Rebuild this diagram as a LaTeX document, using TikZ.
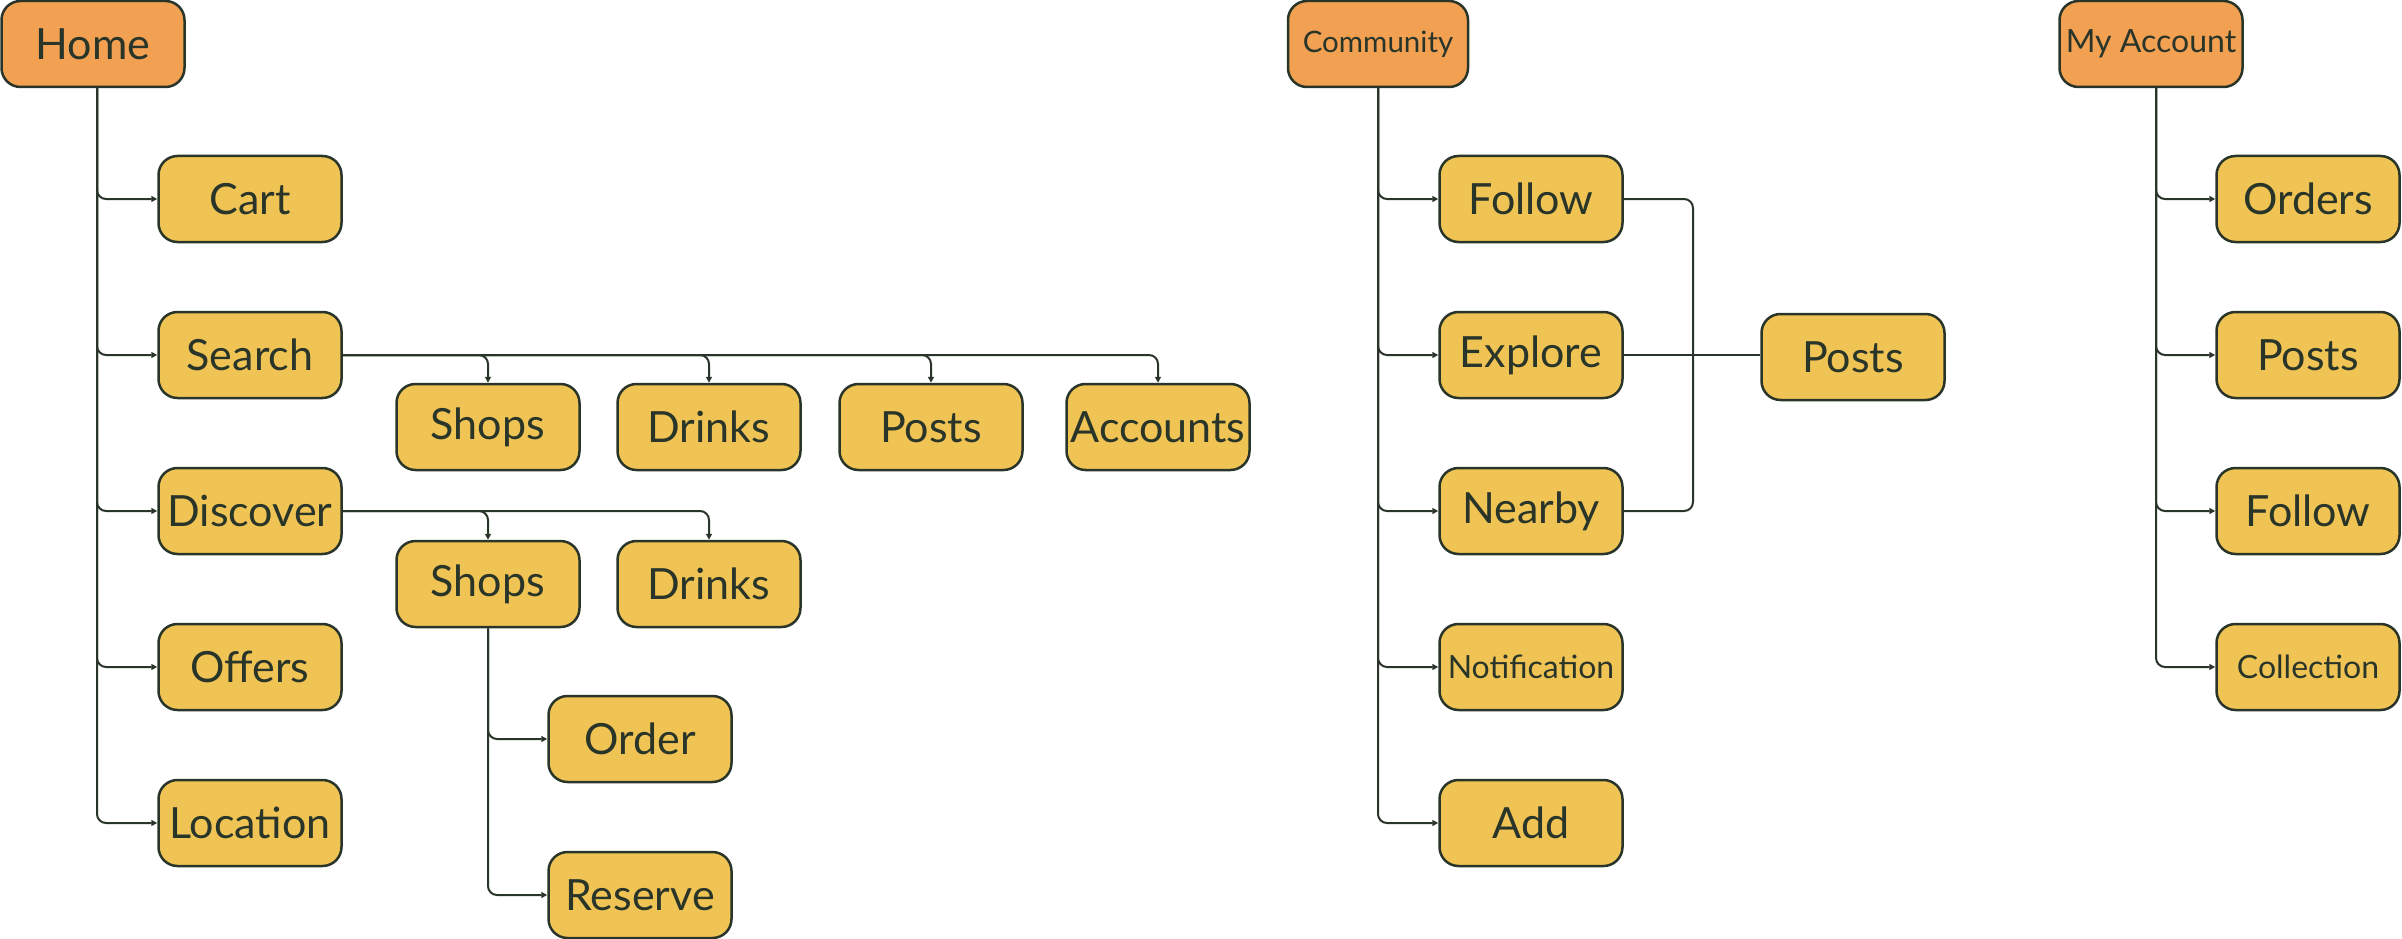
\documentclass[tikz,border=0pt]{standalone}
\usepackage{fontspec}
\setmainfont{Lato}
\usetikzlibrary{arrows.meta,calc}
\definecolor{boxorange}{HTML}{F2A052}
\definecolor{boxyellow}{HTML}{F0C454}
\definecolor{ink}{HTML}{2A3529}
\begin{document}
\begin{tikzpicture}[x=1pt,y=-1pt,
  box/.style={draw=ink,line width=2.5pt,rounded corners=19pt,fill=boxyellow,
    minimum width=183pt,minimum height=86pt,inner sep=0pt,text=ink,
    font=\fontsize{43}{50}\selectfont},
  topbox/.style={box,fill=boxorange},
  small/.style={font=\fontsize{32}{38}\selectfont},
  conn/.style={draw=ink,line width=2pt,rounded corners=9pt},
  arr/.style={conn,-{Triangle[length=6pt,width=6pt]}}
]
\useasboundingbox (0,0) rectangle (2402,939);
% ---------- Home ----------
\node[topbox] (home) at (93,44) {Home};
\node[box] (cart) at (250,199) {Cart};
\node[box] (search) at (250,355) {Search};
\node[box] (discover) at (250,511) {Discover};
\node[box] (offers) at (250,667) {Offers};
\node[box] (location) at (250,823) {Location};
\node[box] (sshops) at (488,427) {Shops};
\node[box] (sdrinks) at (709,427) {Drinks};
\node[box] (sposts) at (931,427) {Posts};
\node[box] (saccounts) at (1158,427) {Accounts};
\node[box] (dshops) at (488,584) {Shops};
\node[box] (ddrinks) at (709,584) {Drinks};
\node[box] (order) at (640,739) {Order};
\node[box] (reserve) at (640,895) {Reserve};
\coordinate (hometrunk) at ([xshift=4pt]home.south);
\foreach \c in {cart,search,discover,offers,location}
  \draw[arr] (hometrunk) |- (\c.west);
\foreach \c in {sshops,sdrinks,sposts,saccounts}
  \draw[arr] (search.east) -| (\c.north);
\foreach \c in {dshops,ddrinks}
  \draw[arr] (discover.east) -| (\c.north);
\foreach \c in {order,reserve}
  \draw[arr] (dshops.south) |- (\c.west);
% ---------- Community ----------
\node[topbox,font=\fontsize{29.5}{36}\selectfont,minimum width=180pt] (community) at (1378,44) {Community};
\node[box] (follow) at (1531,199) {Follow};
\node[box] (explore) at (1531,355) {Explore};
\node[box] (nearby) at (1531,511) {Nearby};
\node[box,small] (notification) at (1531,667) {Notification};
\node[box] (add) at (1531,823) {Add};
\node[box] (cposts) at (1853,357) {Posts};
\coordinate (commtrunk) at (community.south);
\foreach \c in {follow,explore,nearby,notification,add}
  \draw[arr] (commtrunk) |- (\c.west);
\coordinate (bus) at (1693,199);
\draw[conn] (follow.east) -- (bus) -- (bus |- nearby.east) -- (nearby.east);
\draw[conn] (explore.east) -- (explore.east -| cposts.west);
% ---------- My Account ----------
\node[topbox,small] (myaccount) at (2151,44) {My Account};
\node[box] (orders) at (2308,199) {Orders};
\node[box] (aposts) at (2308,355) {Posts};
\node[box] (afollow) at (2308,511) {Follow};
\node[box,small] (collection) at (2308,667) {Collection};
\coordinate (acctrunk) at ([xshift=5pt]myaccount.south);
\foreach \c in {orders,aposts,afollow,collection}
  \draw[arr] (acctrunk) |- (\c.west);
\end{tikzpicture}
\end{document}
